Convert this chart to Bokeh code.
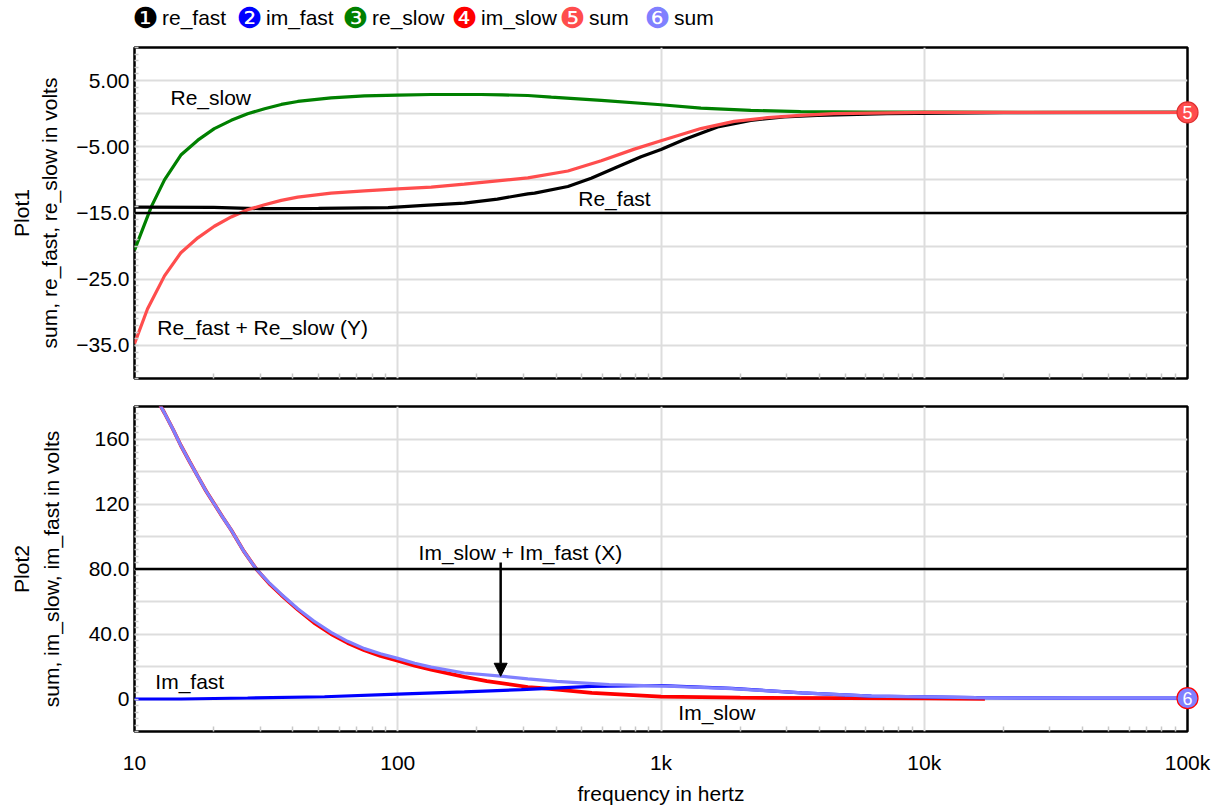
import math
from bokeh.plotting import figure
from bokeh.layouts import column
from bokeh.models import Range1d, FixedTicker, Span, Arrow, NormalHead
from bokeh.core.properties import value
from bokeh.embed import file_html
from bokeh.resources import INLINE

FONT = "Liberation Sans"
FS = "21px"

# ---------------- data ----------------
# Plot1 (real parts)
re_slow_f = [10, 11.6, 13, 15, 17.4, 20.1, 23.3, 26.9, 31.2, 36.1, 41.7, 55.8, 74.7, 100, 134, 207, 250, 312, 383, 593,
             1000, 1418, 2193, 3390, 6066, 12500, 30000, 100000]
re_slow_v = [-20.6, -14, -10, -6.25, -4, -2.25, -1, 0, 0.75, 1.4, 1.85, 2.4, 2.7, 2.8, 2.9, 2.9, 2.85, 2.75, 2.5, 2.0,
             1.35, 0.85, 0.5, 0.3, 0.25, 0.25, 0.2, 0.2]

re_fast_f = [10, 20, 30, 50, 92, 126, 179, 239, 312, 331, 443, 543, 685, 840, 1000, 1226, 1640, 2193, 2933, 3922,
             7230, 20000, 100000]
re_fast_v = [-14.1, -14.15, -14.35, -14.3, -14.2, -13.85, -13.5, -12.9, -12.1, -12.0, -11.0, -9.75, -8.0, -6.5, -5.4,
             -3.9, -2.0, -1.0, -0.5, -0.25, 0.0, 0.15, 0.2]

sum1_f = [10, 11.2, 13, 15, 17.4, 20.1, 23.3, 26.9, 31.2, 36.1, 41.7, 55.8, 74.7, 100, 134, 179, 239, 312, 443, 593,
          792, 1000, 1418, 1895, 2535, 3390, 4534, 10000, 100000]
sum1_v = [-34.75, -29.5, -24.5, -21, -18.75, -17, -15.6, -14.5, -13.75, -13.1, -12.6, -12.0, -11.65, -11.35, -11.1,
          -10.65, -10.15, -9.7, -8.65, -7.1, -5.35, -4.1, -2.25, -1.15, -0.6, -0.25, 0.0, 0.2, 0.2]

# Plot2 (imaginary parts)
im_slow_f = [12.3, 13, 14, 15, 16.2, 17.4, 18.7, 20.1, 21.6, 23.3, 26, 29, 32.5, 36.1, 38.8, 41.7, 48, 55.8, 64.5,
             74.7, 86, 100, 116, 134, 179, 218, 312, 344, 546, 1000, 2000, 5000, 10000, 17000]
im_slow_v = [183, 176, 166, 156, 146, 137, 128, 120, 112, 104, 91, 80, 71, 64, 59.5, 55, 47, 40, 34.5, 30, 26.5,
             23.6, 20.5, 18, 13.6, 11, 7.4, 6.8, 3.8, 1.5, 0.8, 0.5, 0.3, 0.0]

im_fast_f = [10, 15, 26.9, 52.7, 100, 179, 295, 546, 1000, 1857, 3430, 6300, 15800, 40000, 100000]
im_fast_v = [0, 0, 0.6, 1.4, 3.0, 4.4, 5.8, 7.8, 8.3, 6.5, 3.8, 1.8, 0.8, 0.5, 0.5]

sum2_f = [12.3, 13, 14, 15, 16.2, 17.4, 18.7, 20.1, 21.6, 23.3, 26, 29, 32.5, 36.1, 38.8, 41.7, 48, 55.8, 64.5,
          74.7, 86, 100, 116, 134, 179, 253, 312, 402, 636, 1000, 1857, 3430, 6300, 15800, 40000, 100000]
sum2_v = [183, 176, 166, 156, 146, 137, 128, 120, 112, 104, 91, 80, 71.5, 64.5, 60, 55.5, 48, 41, 35.5, 31, 27.8,
          25, 22, 19.6, 16, 13.9, 12.4, 10.9, 8.8, 8.0, 6.4, 3.8, 1.8, 0.8, 0.5, 0.5]

# ticks
x_ticks = [10, 100, 1000, 10000, 100000]
x_tick_labels = ["10", "100", "1k", "10k", "100k"]
x_minor = [m * d for d in (10, 100, 1000, 10000) for m in range(2, 10)]

y1_ticks = [5, -5, -15, -25, -35]
y1_tick_labels = ["5.00", "\u22125.00", "\u221215.0", "\u221225.0", "\u221235.0"]
y1_grid = [5, 0, -5, -10, -15, -20, -25, -30, -35]
y1_minor = list(range(-40, 11))

y2_ticks = [0, 40, 80, 120, 160]
y2_tick_labels = ["0", "40.0", "80.0", "120", "160"]
y2_grid = [0, 20, 40, 60, 80, 100, 120, 140, 160]
y2_minor = list(range(-20, 181, 4))

legend_names = ["re_fast", "im_fast", "re_slow", "im_slow", "sum", "sum"]
legend_marks = ["\u2776", "\u2777", "\u2778", "\u2779", "\u277a", "\u277b"]
legend_colors = ["#000000", "#0000ff", "#008000", "#ff0000", "#ff4d4d", "#8080ff"]

plot1_notes = ["Re_slow", "Re_fast + Re_slow (Y)", "Re_fast"]
plot1_notes_f = [13.7, 12.2, 485]
plot1_notes_v = [2.45, -32.3, -12.85]

plot2_notes = ["Im_fast", "Im_slow + Im_fast (X)", "Im_slow"]
plot2_notes_f = [12.0, 120, 1164]
plot2_notes_v = [10.8, 90, -8.4]

cursor1 = -15
cursor2 = 80
arrow_f = 246
arrow_from = 84
arrow_to = 14

# ---------------- layout constants (pixels) ----------------
W = 1211
FRAME_L = 134            # frame left inside the figure
FRAME_W = 1053
DEC_PX = FRAME_W / 4.0   # pixels per decade
GRID = "#dddddd"
LW = 3.2
legend_px = [145, 249, 355, 464, 572, 657]   # circle centres, figure pixels
legend_text_gap = 16.5
legend_y1 = 14.5          # plot-1 data units above the frame
side_label_px = 21        # centre of the "PlotN" labels, figure pixels


def px_to_f(px):
    return 10 ** (1 + (px - FRAME_L) / DEC_PX)


def make_plot(height, y_lo, y_hi, border_top, border_bottom):
    p = figure(width=W, height=height, x_axis_type="log",
               x_range=Range1d(10, 100000), y_range=Range1d(y_lo, y_hi),
               output_backend="svg", toolbar_location=None)
    p.min_border = 0
    p.min_border_left = FRAME_L
    p.min_border_right = W - FRAME_L - FRAME_W
    p.min_border_top = border_top
    p.min_border_bottom = border_bottom
    p.outline_line_color = "black"
    p.outline_line_width = 2.5
    p.outline_line_alpha = 1
    xa = p.xaxis[0]
    xa.ticker = FixedTicker(ticks=x_ticks, minor_ticks=x_minor)
    xa.major_label_overrides = dict(zip(x_ticks, x_tick_labels))
    xa.axis_line_color = None
    xa.major_tick_in = 0
    xa.major_tick_out = 0
    xa.minor_tick_in = 5
    xa.minor_tick_out = 0
    xa.minor_tick_line_color = "#c8c8c8"
    xa.minor_tick_line_width = 1.5
    xa.major_label_text_font = FONT
    xa.major_label_text_font_size = FS
    xa.major_label_text_color = "black"
    xa.axis_label_text_font = FONT
    xa.axis_label_text_font_size = FS
    xa.axis_label_text_font_style = "normal"
    xa.axis_label_text_color = "black"
    p.xgrid.ticker = FixedTicker(ticks=x_ticks)
    p.xgrid.grid_line_color = GRID
    p.xgrid.grid_line_width = 2
    ya = p.yaxis[0]
    ya.axis_line_color = None
    ya.major_tick_in = 0
    ya.major_tick_out = 0
    ya.minor_tick_in = 4
    ya.minor_tick_out = 0
    ya.minor_tick_line_color = "#c8c8c8"
    ya.minor_tick_line_width = 1.5
    ya.major_label_text_font = FONT
    ya.major_label_text_font_size = FS
    ya.major_label_text_color = "black"
    ya.major_label_standoff = 5
    ya.axis_label_text_font = FONT
    ya.axis_label_text_font_size = FS
    ya.axis_label_text_font_style = "normal"
    ya.axis_label_text_color = "black"
    p.ygrid.grid_line_color = GRID
    p.ygrid.grid_line_width = 2
    return p


def side_label(p, text, y):
    p.text(x=[px_to_f(side_label_px)], y=[y], text=[text], angle=math.pi / 2,
           text_font=value(FONT), text_font_size=FS, text_color="black",
           text_align="center", text_baseline="middle", level="overlay")


def end_marker(p, x, y, num, fill, edge):
    p.scatter(x=[x], y=[y], size=21, marker="circle", fill_color=fill, line_color=edge, line_width=1.2,
              level="overlay")
    p.text(x=[x], y=[y], text=[num], text_color="white", text_font=value(FONT), text_font_size="18px",
           text_align="center", text_baseline="middle", level="overlay")


# ---------------- plot 1 ----------------
p1 = make_plot(392, -40, 10, 47, 14)
p1.xaxis[0].major_label_text_font_size = "1px"
p1.xaxis[0].major_label_text_color = None
p1.xaxis[0].major_label_standoff = 0
p1.yaxis[0].ticker = FixedTicker(ticks=y1_ticks, minor_ticks=y1_minor)
p1.yaxis[0].major_label_overrides = dict(zip(y1_ticks, y1_tick_labels))
p1.yaxis[0].axis_label = "sum, re_fast, re_slow in volts"
p1.yaxis[0].axis_label_standoff = 12
p1.ygrid.ticker = FixedTicker(ticks=y1_grid)
side_label(p1, "Plot1", -15)

p1.add_layout(Span(location=cursor1, dimension="width", line_color="black", line_width=2.5))
p1.line(re_slow_f, re_slow_v, line_color="#008000", line_width=LW)
p1.line(re_fast_f, re_fast_v, line_color="#000000", line_width=LW)
p1.line(sum1_f, sum1_v, line_color="#ff4d4d", line_width=LW)
p1.text(x=plot1_notes_f, y=plot1_notes_v, text=plot1_notes, text_font=value(FONT), text_font_size=FS,
        text_align="left", text_baseline="middle", text_color="black")
end_marker(p1, sum1_f[-1], sum1_v[-1], "5", "#ff4d4d", "#e03030")

# legend (above plot 1's frame)
leg_f = [px_to_f(px) for px in legend_px]
leg_tf = [px_to_f(px + legend_text_gap) for px in legend_px]
leg_y = [legend_y1] * len(legend_px)
p1.text(x=leg_f, y=leg_y, text=legend_marks, text_color=legend_colors, text_font=value("DejaVu Sans"),
        text_font_size="29px", text_align="center", text_baseline="middle", level="overlay")
p1.text(x=leg_tf, y=leg_y, text=legend_names, text_color="black", text_font=value(FONT), text_font_size=FS,
        text_align="left", text_baseline="middle", level="overlay")

# ---------------- plot 2 ----------------
p2 = make_plot(415, -20, 180, 14, 68)
p2.xaxis[0].major_label_standoff = 19
p2.xaxis[0].axis_label = "frequency in hertz"
p2.xaxis[0].axis_label_standoff = 5
p2.yaxis[0].ticker = FixedTicker(ticks=y2_ticks, minor_ticks=y2_minor)
p2.yaxis[0].major_label_overrides = dict(zip(y2_ticks, y2_tick_labels))
p2.yaxis[0].axis_label = "sum, im_slow, im_fast in volts"
p2.yaxis[0].axis_label_standoff = 23
p2.ygrid.ticker = FixedTicker(ticks=y2_grid)
side_label(p2, "Plot2", 80)

p2.add_layout(Span(location=cursor2, dimension="width", line_color="black", line_width=2.5))
p2.line(im_slow_f, im_slow_v, line_color="#ff0000", line_width=LW + 0.5)
p2.line(im_fast_f, im_fast_v, line_color="#0000ff", line_width=LW)
p2.line(sum2_f, sum2_v, line_color="#8080ff", line_width=LW)
p2.text(x=plot2_notes_f, y=plot2_notes_v, text=plot2_notes, text_font=value(FONT), text_font_size=FS,
        text_align="left", text_baseline="middle", text_color="black")
p2.add_layout(Arrow(x_start=arrow_f, y_start=arrow_from, x_end=arrow_f, y_end=arrow_to,
                    line_color="black", line_width=2.5,
                    end=NormalHead(size=13, fill_color="black", line_color="black")))
end_marker(p2, sum2_f[-1], sum2_v[-1], "6", "#8080ff", "#ff0000")

layout = column(p1, p2, spacing=0)
open("out.html", "w").write(file_html(layout, INLINE))
